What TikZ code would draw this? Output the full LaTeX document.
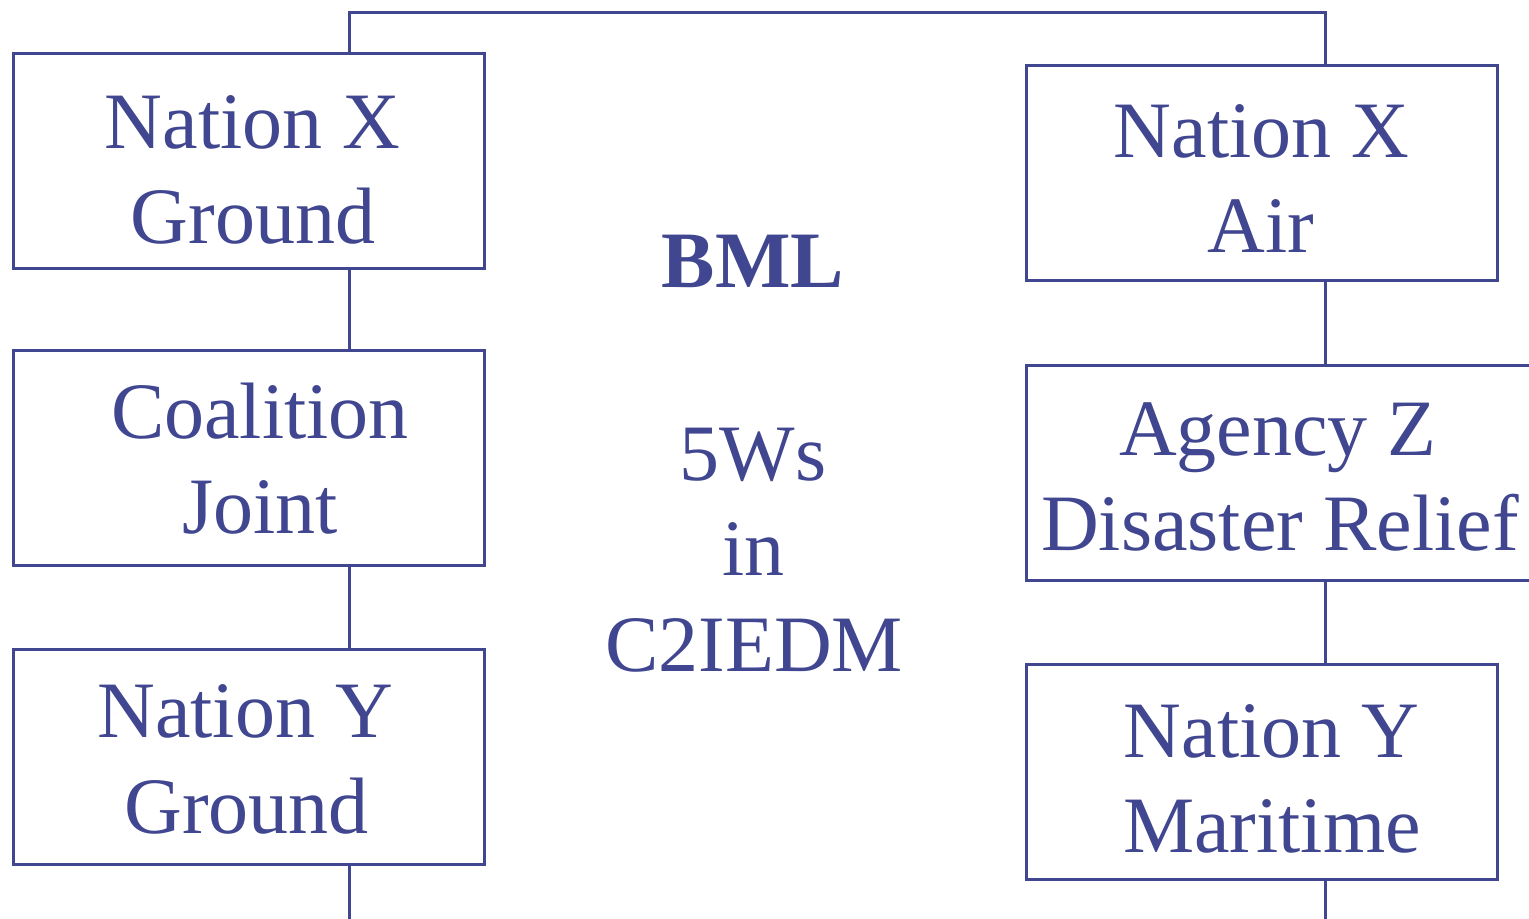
\documentclass[tikz,border=0pt]{standalone}
\usepackage{fontspec}
\setmainfont{Liberation Serif}
\definecolor{navy}{RGB}{64,70,143}
\begin{document}
\begin{tikzpicture}[x=0.5pt,y=-0.5pt,
  unit/.style={draw=navy,line width=1.5pt,rectangle,inner sep=0pt,
    minimum width=235.25pt,minimum height=107.5pt},
  wide/.style={unit,minimum width=266.75pt},
  txt/.style={text=navy,anchor=base,inner sep=0pt,
    font=\fontsize{40}{47.5}\selectfont},
  bold/.style={txt,font=\fontsize{40}{47.5}\selectfont\bfseries},
  link/.style={draw=navy,line width=1.5pt}]
\useasboundingbox (0,0) rectangle (1529,918);
\clip (0,0) rectangle (1529,918);
\fill[white] (0,0) rectangle (1529,918);

% left column
\node[unit] (L1) at (248.75,160.8) {};
\node[unit] (L2) at (248.75,458.4) {};
\node[unit] (L3) at (248.75,756.7) {};
% right column
\node[unit] (R1) at (1261.9,173.4) {};
\node[wide] (R2) at (1293.25,472.9) {};
\node[unit] (R3) at (1261.9,772.4) {};

% labels
\node[txt] (l1a) at (252.5,148) {Nation X};
\node[txt] (l1b) at (253,243) {Ground};
\node[txt] (l2a) at (260,438) {Coalition};
\node[txt] (l2b) at (260,533) {Joint};
\node[txt] (l3a) at (245,737) {Nation Y};
\node[txt] (l3b) at (246.5,833) {Ground};
\node[txt] (r1a) at (1261.5,157) {Nation X};
\node[txt] (r1b) at (1261,252) {Air};
\node[txt] (r2a) at (1278,455) {Agency Z};
\node[txt] (r2b) at (1280,550) {Disaster Relief};
\node[txt] (r3a) at (1271.5,757) {Nation Y};
\node[txt] (r3b) at (1272,852) {Maritime};

\node[bold] (bml) at (753,287) {BML};
\node[txt] (c1) at (753,480) {5Ws};
\node[txt] (c2) at (753.5,575) {in};
\node[txt] (c3) at (754,671) {C2IEDM};

% connectors
\coordinate (tl) at (349.5,12.8);
\coordinate (tr) at (1325.5,12.8);
\coordinate (lb) at (349.5,930);
\coordinate (rb) at (1325.5,930);
\draw[link] (L1.north -| tl) -- (tl) -- (tr) -- (R1.north -| tr);
\draw[link] (L1.south -| tl) -- (L2.north -| tl);
\draw[link] (L2.south -| tl) -- (L3.north -| tl);
\draw[link] (L3.south -| tl) -- (lb);
\draw[link] (R1.south -| tr) -- (R2.north -| tr);
\draw[link] (R2.south -| tr) -- (R3.north -| tr);
\draw[link] (R3.south -| tr) -- (rb);
\end{tikzpicture}
\end{document}
